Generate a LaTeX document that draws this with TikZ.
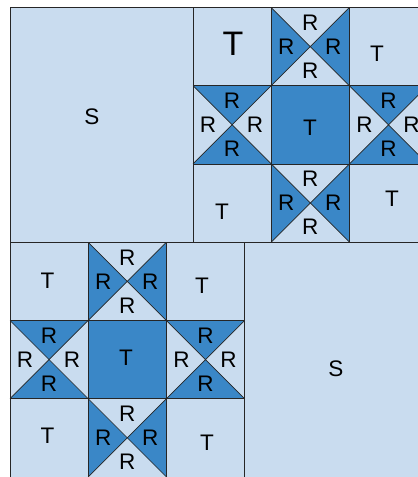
\documentclass[tikz,border=0pt]{standalone}
\usepackage{fontspec}
\setmainfont{Liberation Sans}

\definecolor{quiltlight}{HTML}{C9DCEF}
\definecolor{quiltdark}{HTML}{3A87C7}

\tikzset{
  patch/.style={draw=black!85, line width=0.7pt},
  lbl/.style={font=\fontsize{22.5}{22.5}\selectfont, inner sep=0pt},
  biglbl/.style={font=\fontsize{34}{34}\selectfont, inner sep=0pt},
}

\newcommand{\qsize}{78.2}

% star block: #1 = name, (#2,#3) = top left corner
\newcommand{\starblock}[3]{%
  \begin{scope}[shift={(#2,#3)}]
    \def\c{\qsize}
    \fill[quiltlight] (0,0) rectangle (3*\c,3*\c);
    \fill[quiltdark] (\c,\c) rectangle (2*\c,2*\c);
    \foreach \cx/\cy/\dir in {1/0/0, 0/1/1, 2/1/1, 1/2/0} {
      \begin{scope}[shift={(\cx*\c,\cy*\c)}]
        \ifnum\dir=0
          \fill[quiltdark] (0,0) -- (0.5*\c,0.5*\c) -- (0,\c) -- cycle;
          \fill[quiltdark] (\c,0) -- (0.5*\c,0.5*\c) -- (\c,\c) -- cycle;
        \else
          \fill[quiltdark] (0,0) -- (0.5*\c,0.5*\c) -- (\c,0) -- cycle;
          \fill[quiltdark] (0,\c) -- (0.5*\c,0.5*\c) -- (\c,\c) -- cycle;
        \fi
        \draw[patch] (0,0) -- (\c,\c) (\c,0) -- (0,\c);
        \node[lbl] (#1-r\cx\cy-n) at (0.5*\c,0.5*\c-24) {R};
        \node[lbl] (#1-r\cx\cy-s) at (0.5*\c,0.5*\c+24) {R};
        \node[lbl] (#1-r\cx\cy-w) at (0.5*\c-24,0.5*\c) {R};
        \node[lbl] (#1-r\cx\cy-e) at (0.5*\c+23,0.5*\c) {R};
      \end{scope}
    }
    % grid of the block
    \foreach \k in {0,...,3} {
      \draw[patch] (\k*\c,0) -- (\k*\c,3*\c);
      \draw[patch] (0,\k*\c) -- (3*\c,\k*\c);
    }
  \end{scope}
}

\begin{document}
\begin{tikzpicture}[x=1pt, y=-1pt]
  \useasboundingbox (0,0) rectangle (418,477);
  \clip (0,0) rectangle (418,477);

  % plain squares
  \draw[patch, fill=quiltlight] (10,7.5) rectangle (193,242.3);
  \node[lbl] (s1) at (92,117) {S};
  \draw[patch, fill=quiltlight] (244.6,242.3) rectangle (440,490);
  \node[lbl] (s2) at (336,369) {S};

  % upper star
  \starblock{tr}{193}{7.5}
  \node[biglbl] (tr-t1) at (233,44) {T};
  \node[lbl] (tr-t2) at (377,54) {T};
  \node[lbl] (tr-t3) at (222,212) {T};
  \node[lbl] (tr-t4) at (392,199) {T};
  \node[lbl] (tr-t5) at (310,128) {T};

  % lower star
  \starblock{bl}{10}{242.3}
  \node[lbl] (bl-t1) at (47.5,281) {T};
  \node[lbl] (bl-t2) at (202,286) {T};
  \node[lbl] (bl-t3) at (47.5,436) {T};
  \node[lbl] (bl-t4) at (207,443) {T};
  \node[lbl] (bl-t5) at (126,358) {T};
\end{tikzpicture}
\end{document}
